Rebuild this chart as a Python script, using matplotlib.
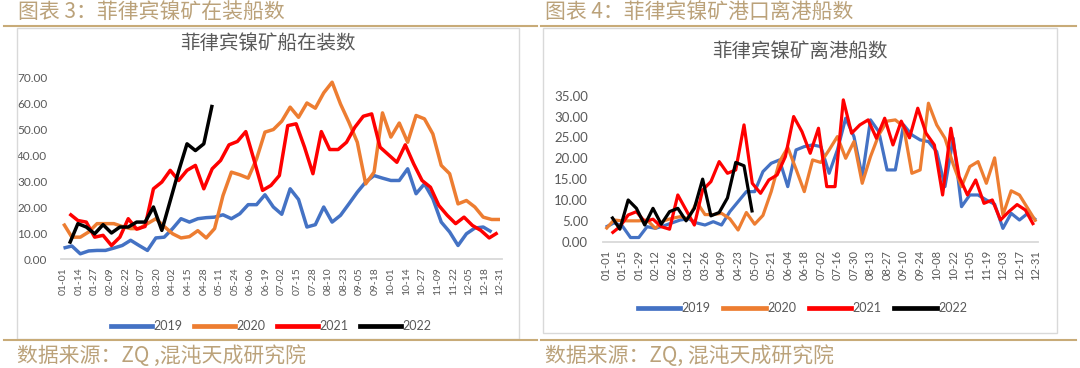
import datetime as dt
import numpy as np
import matplotlib
matplotlib.use('Agg')
import matplotlib.pyplot as plt
from matplotlib.patches import Rectangle
from matplotlib.lines import Line2D

plt.rcParams['font.family'] = ['Lato', 'Noto Sans CJK SC', 'DejaVu Sans']

# ---------------- data ----------------
years = ['2019', '2020', '2021', '2022']
colors = ['#4472C4', '#ED7D31', '#FF0000', '#000000']
series_start = ['01-01', '01-01', '01-06', '01-06']   # first weekly date of each series

left_title = '菲律宾镍矿船在装数'
left_header = '图表 3：菲律宾镍矿在装船数'
left_source = '数据来源：ZQ ,混沌天成研究院'
left_ticks = ['01-01', '01-14', '01-27', '02-09', '02-22', '03-07', '03-20', '04-02',
              '04-15', '04-28', '05-11', '05-24', '06-06', '06-19', '07-02', '07-15',
              '07-28', '08-10', '08-23', '09-05', '09-18', '10-01', '10-14', '10-27',
              '11-09', '11-22', '12-05', '12-18', '12-31']
left_2019 = [4.2, 5.0, 2.0, 3.1, 3.3, 3.3, 4.2, 5.2, 7.2, 5.2, 3.3, 8.1, 8.4, 11.7,
             15.5, 14.2, 15.5, 15.9, 16.1, 17.0, 15.5, 17.4, 20.9, 20.9, 24.7, 20.0,
             17.2, 27.0, 22.9, 12.3, 13.2, 20.0, 14.2, 16.8, 21.2, 25.7, 29.6, 32.1,
             31.1, 30.2, 30.2, 34.7, 25.1, 28.9, 23.2, 14.2, 10.4, 5.2, 9.7, 11.9,
             12.3, 10.4]
left_2020 = [13.6, 8.4, 8.4, 10.4, 13.6, 13.6, 13.6, 12.5, 11.7, 11.7, 13.6, 15.5,
             12.5, 9.7, 8.1, 8.6, 10.9, 8.1, 11.7, 24.4, 33.4, 32.4, 31.1, 38.5, 48.8,
             49.8, 53.0, 58.4, 54.5, 60.0, 58.0, 63.9, 68.0, 59.6, 52.6, 44.9, 28.9,
             33.4, 56.2, 46.9, 52.3, 44.9, 55.2, 53.9, 48.1, 36.0, 32.8, 21.2, 22.5,
             20.0, 16.1, 15.2, 15.2]
left_2021 = [17.4, 14.8, 14.2, 8.4, 9.1, 5.2, 8.4, 15.5, 11.5, 12.5, 27.0, 29.6, 34.1,
             30.2, 34.1, 36.0, 27.0, 34.7, 37.9, 43.9, 45.2, 49.0, 37.9, 26.4, 28.3,
             32.1, 51.3, 52.0, 43.0, 32.8, 49.0, 42.1, 42.1, 44.9, 50.7, 54.9, 55.8,
             43.0, 40.1, 37.2, 43.9, 36.6, 30.2, 27.6, 20.6, 16.8, 13.6, 16.1, 12.9,
             11.0, 8.1, 10.1]
left_2022 = [5.9, 13.6, 12.3, 9.7, 13.2, 10.0, 12.3, 12.3, 14.2, 14.2, 20.0, 11.0,
             22.4, 33.8, 44.3, 41.7, 44.3, 59.3]
left_yticks = [0, 10, 20, 30, 40, 50, 60, 70]

right_title = '菲律宾镍矿离港船数'
right_header = '图表 4：菲律宾镍矿港口离港船数'
right_source = '数据来源：ZQ, 混沌天成研究院'
right_ticks = ['01-01', '01-15', '01-29', '02-12', '02-26', '03-12', '03-26', '04-09',
               '04-23', '05-07', '05-21', '06-04', '06-18', '07-02', '07-16', '07-30',
               '08-13', '08-27', '09-10', '09-24', '10-08', '10-22', '11-05', '11-19',
               '12-03', '12-17', '12-31']
right_2019 = [3.5, 4.5, 3.8, 1.0, 1.0, 3.6, 3.2, 3.8, 4.5, 5.2, 5.5, 4.5, 4.0, 4.8,
              4.0, 7.2, 9.6, 12.0, 12.0, 16.8, 18.8, 19.6, 13.2, 22.0, 22.8, 23.2,
              22.8, 16.4, 22.0, 29.6, 25.2, 15.6, 29.2, 26.4, 17.2, 17.2, 28.0, 25.6,
              24.4, 24.0, 21.6, 13.2, 24.8, 8.4, 11.2, 11.2, 10.0, 9.0, 3.2, 6.8, 5.2,
              6.8, 5.2]
right_2020 = [3.0, 5.2, 5.0, 5.0, 5.0, 5.2, 3.2, 5.0, 5.6, 6.0, 5.5, 9.5, 6.5, 6.5,
              6.8, 5.5, 2.8, 7.0, 4.2, 6.3, 12.0, 19.2, 22.6, 17.4, 12.0, 19.6, 19.0,
              22.0, 25.2, 20.0, 24.0, 14.0, 20.4, 25.6, 28.9, 29.2, 27.6, 16.4, 17.2,
              33.2, 28.0, 24.8, 18.5, 13.2, 18.0, 19.2, 14.0, 20.1, 6.4, 12.2, 11.2,
              8.0, 4.8]
right_2021 = [2.0, 3.6, 6.4, 7.2, 4.8, 5.4, 3.6, 3.0, 11.2, 7.6, 4.0, 12.4, 14.4, 19.2,
              16.4, 17.2, 28.0, 14.0, 11.6, 14.8, 16.0, 20.4, 30.0, 26.4, 21.2, 27.2,
              13.2, 13.2, 34.0, 26.0, 28.0, 29.2, 24.8, 29.6, 23.2, 28.9, 24.9, 32.0,
              26.0, 23.2, 11.2, 27.2, 15.6, 11.2, 14.8, 9.2, 10.0, 5.2, 7.2, 8.9, 7.6,
              4.0]
right_2022 = [6.0, 3.0, 10.0, 8.0, 4.0, 8.0, 4.2, 7.2, 8.0, 5.0, 8.0, 15.0, 6.2, 7.0,
              10.5, 19.0, 18.2, 7.0]
right_yticks = [0, 5, 10, 15, 20, 25, 30, 35]

# ---------------- helpers ----------------
W, H = 1080, 368
GRAY = '#595959'
TAN = '#BBA27A'
GOLD = '#C8AB78'
FRAME = '#D9D9D9'


def doy(mmdd):
    d = dt.date(2019, int(mmdd[:2]), int(mmdd[3:]))
    return (d - dt.date(2019, 1, 1)).days


def fx(x):
    return x / W


def fy(y):
    return 1 - y / H


fig = plt.figure(figsize=(W / 100, H / 100), dpi=100)
fig.patch.set_facecolor('white')


def draw_panel(rect, ticks, data, yticks, ylab_size, xlab_size, ypad, xpad, lw):
    ax = fig.add_axes(rect)
    for s, vals, c in zip(series_start, data, colors):
        x = doy(s) + 7 * np.arange(len(vals))
        ax.plot(x, vals, color=c, lw=lw, solid_joinstyle='round',
                solid_capstyle='butt')
    ax.set_xlim(-2, 366)
    ax.set_ylim(yticks[0], yticks[-1])
    ax.set_xticks([doy(t) for t in ticks])
    ax.set_xticklabels(ticks, rotation=90, fontsize=xlab_size, color=GRAY)
    ax.set_yticks(yticks)
    ax.set_yticklabels(['{:.2f}'.format(v) for v in yticks], fontsize=ylab_size,
                       color=GRAY)
    ax.tick_params(axis='both', length=0)
    ax.tick_params(axis='y', pad=ypad)
    ax.tick_params(axis='x', pad=xpad)
    for sp in ['top', 'right', 'left']:
        ax.spines[sp].set_visible(False)
    ax.spines['bottom'].set_color(FRAME)
    ax.spines['bottom'].set_linewidth(1.3)
    ax.set_facecolor('none')
    return ax


# frames
fig.add_artist(Rectangle((fx(16.5), fy(339)), (519 - 16.5) / W, (339 - 28) / H,
                         transform=fig.transFigure, fill=False, ec=FRAME, lw=1.0))
fig.add_artist(Rectangle((fx(543), fy(333)), (1057 - 543) / W, (333 - 28) / H,
                         transform=fig.transFigure, fill=False, ec=FRAME, lw=1.0))

# left panel: day 0 at x=63.5, day 364 at x=500 ; y 0 at 259, 70 at 77
ppd = (500 - 63.5) / 364
l_left = 63.5 - 2 * ppd
l_w = 368 * ppd
axL = draw_panel([fx(l_left), fy(259), l_w / W, (259 - 77) / H], left_ticks,
                 [left_2019, left_2020, left_2021, left_2022], left_yticks,
                 8.5, 7.5, 10, 6, 2.5)

# right panel: day 0 at 605.7, day 364 at 1036 ; y 0 at 241.7, 35 at 95.7
ppd2 = (1036 - 605.7) / 364
r_left = 605.7 - 2 * ppd2
r_w = 368 * ppd2
axR = draw_panel([fx(r_left), fy(241.7), r_w / W, (241.7 - 95.7) / H], right_ticks,
                 [right_2019, right_2020, right_2021, right_2022], right_yticks,
                 9.5, 8, 11, 6, 2.3)

# titles inside charts
cjk = ['Noto Sans CJK SC', 'DejaVu Sans']
fig.text(fx(268), fy(43.5), left_title, fontsize=14, color=GRAY, ha='center',
         va='center', family=cjk)
fig.text(fx(800), fy(51.5), right_title, fontsize=14, color=GRAY, ha='center',
         va='center', family=cjk)

# headers and gold rules
fig.text(fx(18), fy(12), left_header, fontsize=15, color=TAN, ha='left',
         va='center', family=cjk)
fig.text(fx(545), fy(12), right_header, fontsize=15, color=TAN, ha='left',
         va='center', family=cjk)
for x0, x1 in [(4, 537), (541, 1076)]:
    fig.add_artist(Line2D([fx(x0), fx(x1)], [fy(26), fy(26)], color=GOLD, lw=1.5))
    fig.add_artist(Line2D([fx(x0), fx(x1)], [fy(340), fy(340)], color=GOLD, lw=1.5))

fig.text(fx(17), fy(356), left_source, fontsize=15, color=TAN, ha='left',
         va='center', family=cjk)
fig.text(fx(545), fy(356), right_source, fontsize=15, color=TAN, ha='left',
         va='center', family=cjk)

# legends
handles = [Line2D([], [], color=c, lw=3.4) for c in colors]
for cx, cy, hl, cs in [(271.5, 326, 3.3, 0.9), (802.5, 308, 3.4, 1.0)]:
    fig.legend(handles, years, loc='center', bbox_to_anchor=(fx(cx), fy(cy)),
               ncol=4, frameon=False, handlelength=hl, handletextpad=0.12,
               columnspacing=cs, fontsize=9, labelcolor=GRAY,
               bbox_transform=fig.transFigure)

fig.savefig('out.png', dpi=100, facecolor='white')
